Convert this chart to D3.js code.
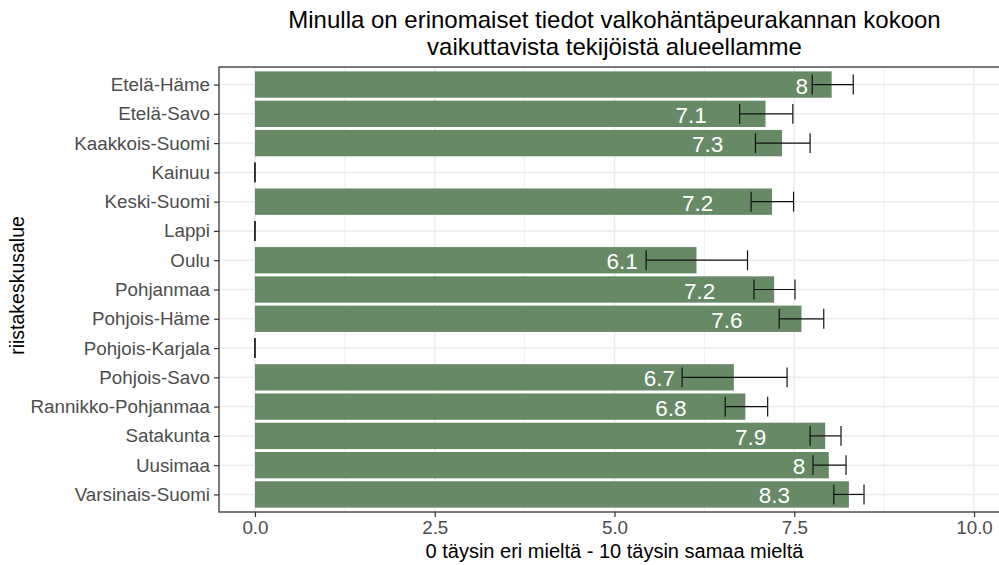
<!DOCTYPE html>
<html>
<head>
<meta charset="utf-8">
<script src="https://cdn.jsdelivr.net/npm/d3@7"></script>
<style>
  html, body { margin: 0; padding: 0; background: #fff; }
  svg { display: block; }
</style>
</head>
<body>
<script>
// Data
const regions = [
  "Etelä-Häme", "Etelä-Savo", "Kaakkois-Suomi", "Kainuu", "Keski-Suomi",
  "Lappi", "Oulu", "Pohjanmaa", "Pohjois-Häme", "Pohjois-Karjala",
  "Pohjois-Savo", "Rannikko-Pohjanmaa", "Satakunta", "Uusimaa", "Varsinais-Suomi"
];
// mean score, null = no answers
const means = [8.02, 7.10, 7.33, null, 7.19, null, 6.14, 7.22, 7.60, null, 6.66, 6.82, 7.93, 7.98, 8.26];
const errLow = [7.75, 6.74, 6.96, 0, 6.90, 0, 5.44, 6.94, 7.29, 0, 5.94, 6.54, 7.72, 7.76, 8.05];
const errHigh = [8.32, 7.48, 7.72, 0, 7.49, 0, 6.85, 7.51, 7.91, 0, 7.40, 7.13, 8.15, 8.22, 8.47];

const xTicks = [0, 2.5, 5, 7.5, 10];
const xMinorTicks = [1.25, 3.75, 6.25, 8.75];

const title = ["Minulla on erinomaiset tiedot valkohäntäpeurakannan kokoon",
               "vaikuttavista tekijöistä alueellamme"];
const xTitle = "0 täysin eri mieltä - 10 täysin samaa mieltä";
const yTitle = "riistakeskusalue";

const W = 999, H = 565;
const panel = { left: 219, right: 1010, top: 67, bottom: 512 };
const FONT = '"Liberation Sans", Arial, sans-serif';
const BAR = "#678966";

const rows = regions.map((r, i) => ({
  region: r, mean: means[i], lo: errLow[i], hi: errHigh[i]
}));

const x = d3.scaleLinear().domain([-0.5, 10.5]).range([panel.left, panel.right]);
const y = d3.scalePoint().domain(regions).range([panel.top, panel.bottom]).padding(0.6);
const step = y.step();

const svg = d3.select("body").append("svg")
  .attr("width", W).attr("height", H)
  .style("font-family", FONT);

svg.append("rect").attr("width", W).attr("height", H).attr("fill", "#fff");

const defs = svg.append("defs");
defs.append("clipPath").attr("id", "pclip").append("rect")
  .attr("x", panel.left).attr("y", panel.top)
  .attr("width", panel.right - panel.left).attr("height", panel.bottom - panel.top);

const g = svg.append("g").attr("clip-path", "url(#pclip)");

// grid
g.append("g").selectAll("line").data(xMinorTicks).join("line")
  .attr("x1", d => x(d)).attr("x2", d => x(d))
  .attr("y1", panel.top).attr("y2", panel.bottom)
  .attr("stroke", "#ebebeb").attr("stroke-width", 0.8);
g.append("g").selectAll("line").data(xTicks).join("line")
  .attr("x1", d => x(d)).attr("x2", d => x(d))
  .attr("y1", panel.top).attr("y2", panel.bottom)
  .attr("stroke", "#ebebeb").attr("stroke-width", 1.5);
g.append("g").selectAll("line").data(regions).join("line")
  .attr("x1", panel.left).attr("x2", panel.right)
  .attr("y1", d => y(d)).attr("y2", d => y(d))
  .attr("stroke", "#ebebeb").attr("stroke-width", 1.5);

// bars
g.append("g").selectAll("rect").data(rows.filter(d => d.mean != null)).join("rect")
  .attr("x", x(0))
  .attr("y", d => y(d.region) - step * 0.45)
  .attr("width", d => x(d.mean) - x(0))
  .attr("height", step * 0.9)
  .attr("fill", BAR);

// value labels (white, pushed left of the bar end)
const labels = g.append("g").selectAll("text").data(rows.filter(d => d.mean != null)).join("text")
  .attr("y", d => y(d.region) + 9)
  .attr("fill", "#fff")
  .attr("font-size", 22.5)
  .text(d => String(Math.round(d.mean * 10) / 10));
labels.attr("x", function (d) {
  const w = this.getComputedTextLength();
  return x(d.mean) - 2.88 * w;
});

// error bars
const capH = step * 0.68;
const eb = g.append("g").attr("stroke", "#111").attr("stroke-width", 1.2);
eb.selectAll("line.h").data(rows).join("line").attr("class", "h")
  .attr("x1", d => x(d.lo)).attr("x2", d => x(d.hi))
  .attr("y1", d => y(d.region)).attr("y2", d => y(d.region));
eb.selectAll("line.l").data(rows).join("line").attr("class", "l")
  .attr("x1", d => x(d.lo)).attr("x2", d => x(d.lo))
  .attr("y1", d => y(d.region) - capH / 2).attr("y2", d => y(d.region) + capH / 2);
eb.selectAll("line.r").data(rows).join("line").attr("class", "r")
  .attr("x1", d => x(d.hi)).attr("x2", d => x(d.hi))
  .attr("y1", d => y(d.region) - capH / 2).attr("y2", d => y(d.region) + capH / 2);

// panel border
svg.append("rect")
  .attr("x", panel.left).attr("y", panel.top)
  .attr("width", panel.right - panel.left).attr("height", panel.bottom - panel.top)
  .attr("fill", "none").attr("stroke", "#333").attr("stroke-width", 1.3);

// axes
const xAxis = svg.append("g")
  .attr("transform", `translate(0,${panel.bottom})`)
  .call(d3.axisBottom(x).tickValues(xTicks).tickFormat(d3.format(".1f")).tickSize(5).tickPadding(4));
xAxis.select(".domain").remove();
xAxis.selectAll("line").attr("stroke", "#333").attr("stroke-width", 1.2);
xAxis.selectAll("text").attr("fill", "#4d4d4d").attr("font-size", 18.8).attr("font-family", FONT);

const yAxis = svg.append("g")
  .attr("transform", `translate(${panel.left},0)`)
  .call(d3.axisLeft(y).tickSize(5).tickPadding(4));
yAxis.select(".domain").remove();
yAxis.selectAll("line").attr("stroke", "#333").attr("stroke-width", 1.2);
yAxis.selectAll("text").attr("fill", "#4d4d4d").attr("font-size", 18.8).attr("font-family", FONT);

// titles
const cx = (panel.left + panel.right) / 2;
svg.append("g").selectAll("text").data(title).join("text")
  .attr("x", cx).attr("y", (d, i) => 28.3 + i * 26.7)
  .attr("text-anchor", "middle")
  .attr("font-size", 24).attr("fill", "#000")
  .text(d => d);

svg.append("text")
  .attr("x", cx).attr("y", 558)
  .attr("text-anchor", "middle")
  .attr("font-size", 20).attr("fill", "#000")
  .text(xTitle);

const ty = (panel.top + panel.bottom) / 2;
svg.append("text")
  .attr("transform", `translate(24,${ty - 4}) rotate(-90)`)
  .attr("text-anchor", "middle")
  .attr("font-size", 19.5).attr("fill", "#000")
  .text(yTitle);
</script>
</body>
</html>
